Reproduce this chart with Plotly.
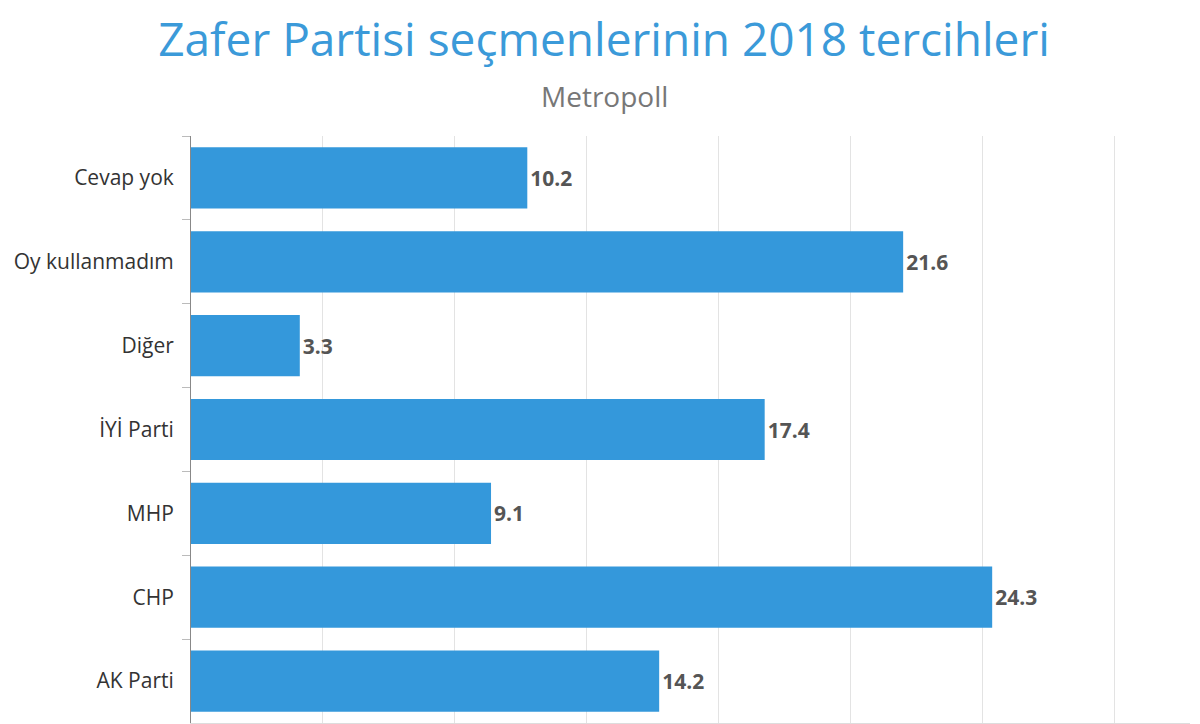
import plotly.graph_objects as go

categories = ["Cevap yok", "Oy kullanmadım", "Diğer", "İYİ Parti", "MHP", "CHP", "AK Parti"]
values = [10.2, 21.6, 3.3, 17.4, 9.1, 24.3, 14.2]

W, H = 1200, 724
L, R, T, B = 191, 10, 136, 1
plot_h = H - T - B
plot_w = W - L - R
fig = go.Figure(go.Bar(
    x=values, y=categories, orientation="h",
    marker=dict(color="#3498db", line=dict(width=0)),
    text=values, texttemplate="<b>%{x:.1f}</b>", textposition="outside",
    textfont=dict(family="Open Sans", size=21, color="#555555"),
    cliponaxis=False,
))

fig.update_layout(
    width=W, height=H,
    margin=dict(l=L, r=R, t=T, b=B),
    plot_bgcolor="white", paper_bgcolor="white",
    bargap=0.27,
    showlegend=False,
    font=dict(family="Open Sans", color="#333333"),
    title=dict(text="Zafer Partisi seçmenlerinin 2018 tercihleri",
               x=604 / W, xanchor="center", y=1 - 40 / H, yanchor="middle", yref="container",
               xref="container",
               font=dict(family="Open Sans", size=46, color="#3b9ad9")),
    annotations=[dict(text="Metropoll", x=(604 - L) / plot_w, xref="paper", xanchor="center",
                      y=(H - B - 96) / plot_h, yref="paper", yanchor="middle", showarrow=False,
                      font=dict(family="Open Sans", size=28, color="#777777"))],
)
fig.update_xaxes(range=[0, 30.3], dtick=4, showgrid=True, gridcolor="#e3e3e3", gridwidth=1,
                 showticklabels=False, zeroline=False, showline=True, linecolor="#dddddd",
                 ticks="")
fig.update_yaxes(autorange="reversed", categoryorder="array", categoryarray=categories,
                 showline=True, linecolor="#888888", linewidth=1, ticks="outside",
                 tickson="boundaries", ticklen=8, tickcolor="#bbbbbb",
                 ticklabelstandoff=12,
                 tickfont=dict(family="Open Sans", size=21, color="#333333"))

fig.write_html("out.html")
